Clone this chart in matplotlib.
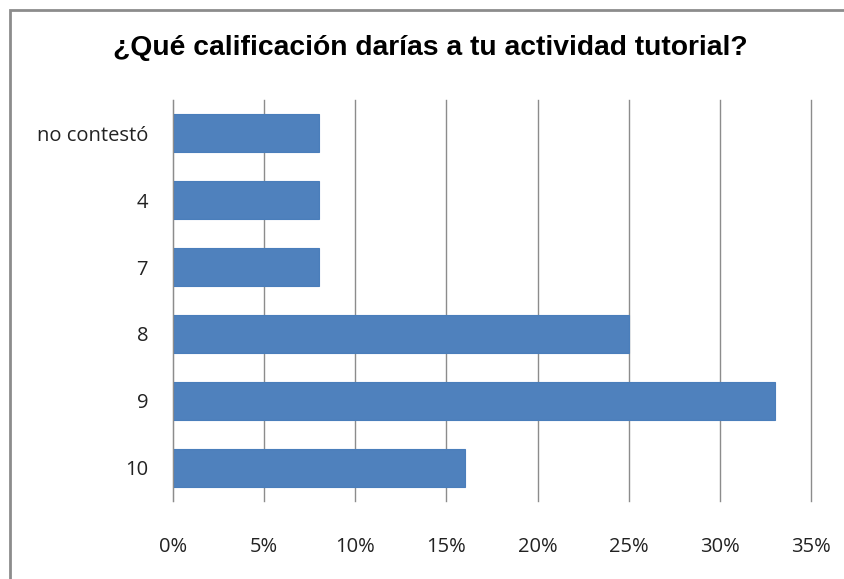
import matplotlib.pyplot as plt
from matplotlib.patches import Rectangle
from matplotlib.ticker import FuncFormatter

categorias = ['no contestó', '4', '7', '8', '9', '10']
porcentajes = [8, 8, 8, 25, 33, 16]
ticks_x = [0, 5, 10, 15, 20, 25, 30, 35]

fig = plt.figure(figsize=(8.44, 5.79), dpi=100)
W, H = 844, 579

# marco gris del grafico (recortado a la derecha y abajo)
fig.patches.append(Rectangle((10 / W, -0.05), 1.1, (1 - 10 / H) + 0.05,
                             transform=fig.transFigure, fill=False,
                             edgecolor='#8c8c8c', linewidth=2))

ax = fig.add_axes([173 / W, 1 - 501 / H, (811 - 173) / W, (501 - 100) / H])

y = list(range(len(categorias)))
ax.barh(y, porcentajes, height=0.57, color='#4f81bd', edgecolor='#4a7ebb', linewidth=0.8, zorder=2)
ax.set_ylim(len(categorias) - 0.5, -0.5)
ax.set_xlim(0, 35)
ax.set_xticks(ticks_x)
ax.xaxis.set_major_formatter(FuncFormatter(lambda v, p: '%d%%' % v))
ax.set_yticks(y)
ax.set_yticklabels(categorias)

ax.grid(axis='x', color='#8c8c8c', linewidth=1, zorder=0)
for gl in ax.get_xgridlines():
    gl.set_clip_on(False)
for s in ['top', 'right', 'bottom']:
    ax.spines[s].set_visible(False)
ax.spines['left'].set_color('#8c8c8c')
ax.tick_params(length=0, labelsize=14.5, colors='#222222')
ax.tick_params(axis='x', pad=26)
ax.tick_params(axis='y', pad=18)
for lbl in ax.get_xticklabels() + ax.get_yticklabels():
    lbl.set_family('Open Sans')

fig.text(0.51, 1 - 48 / H, '¿Qué calificación darías a tu actividad tutorial?',
         ha='center', va='center', fontsize=20.3, fontweight='bold',
         family='Liberation Sans', color='black')

fig.savefig('out.png', dpi=100)
